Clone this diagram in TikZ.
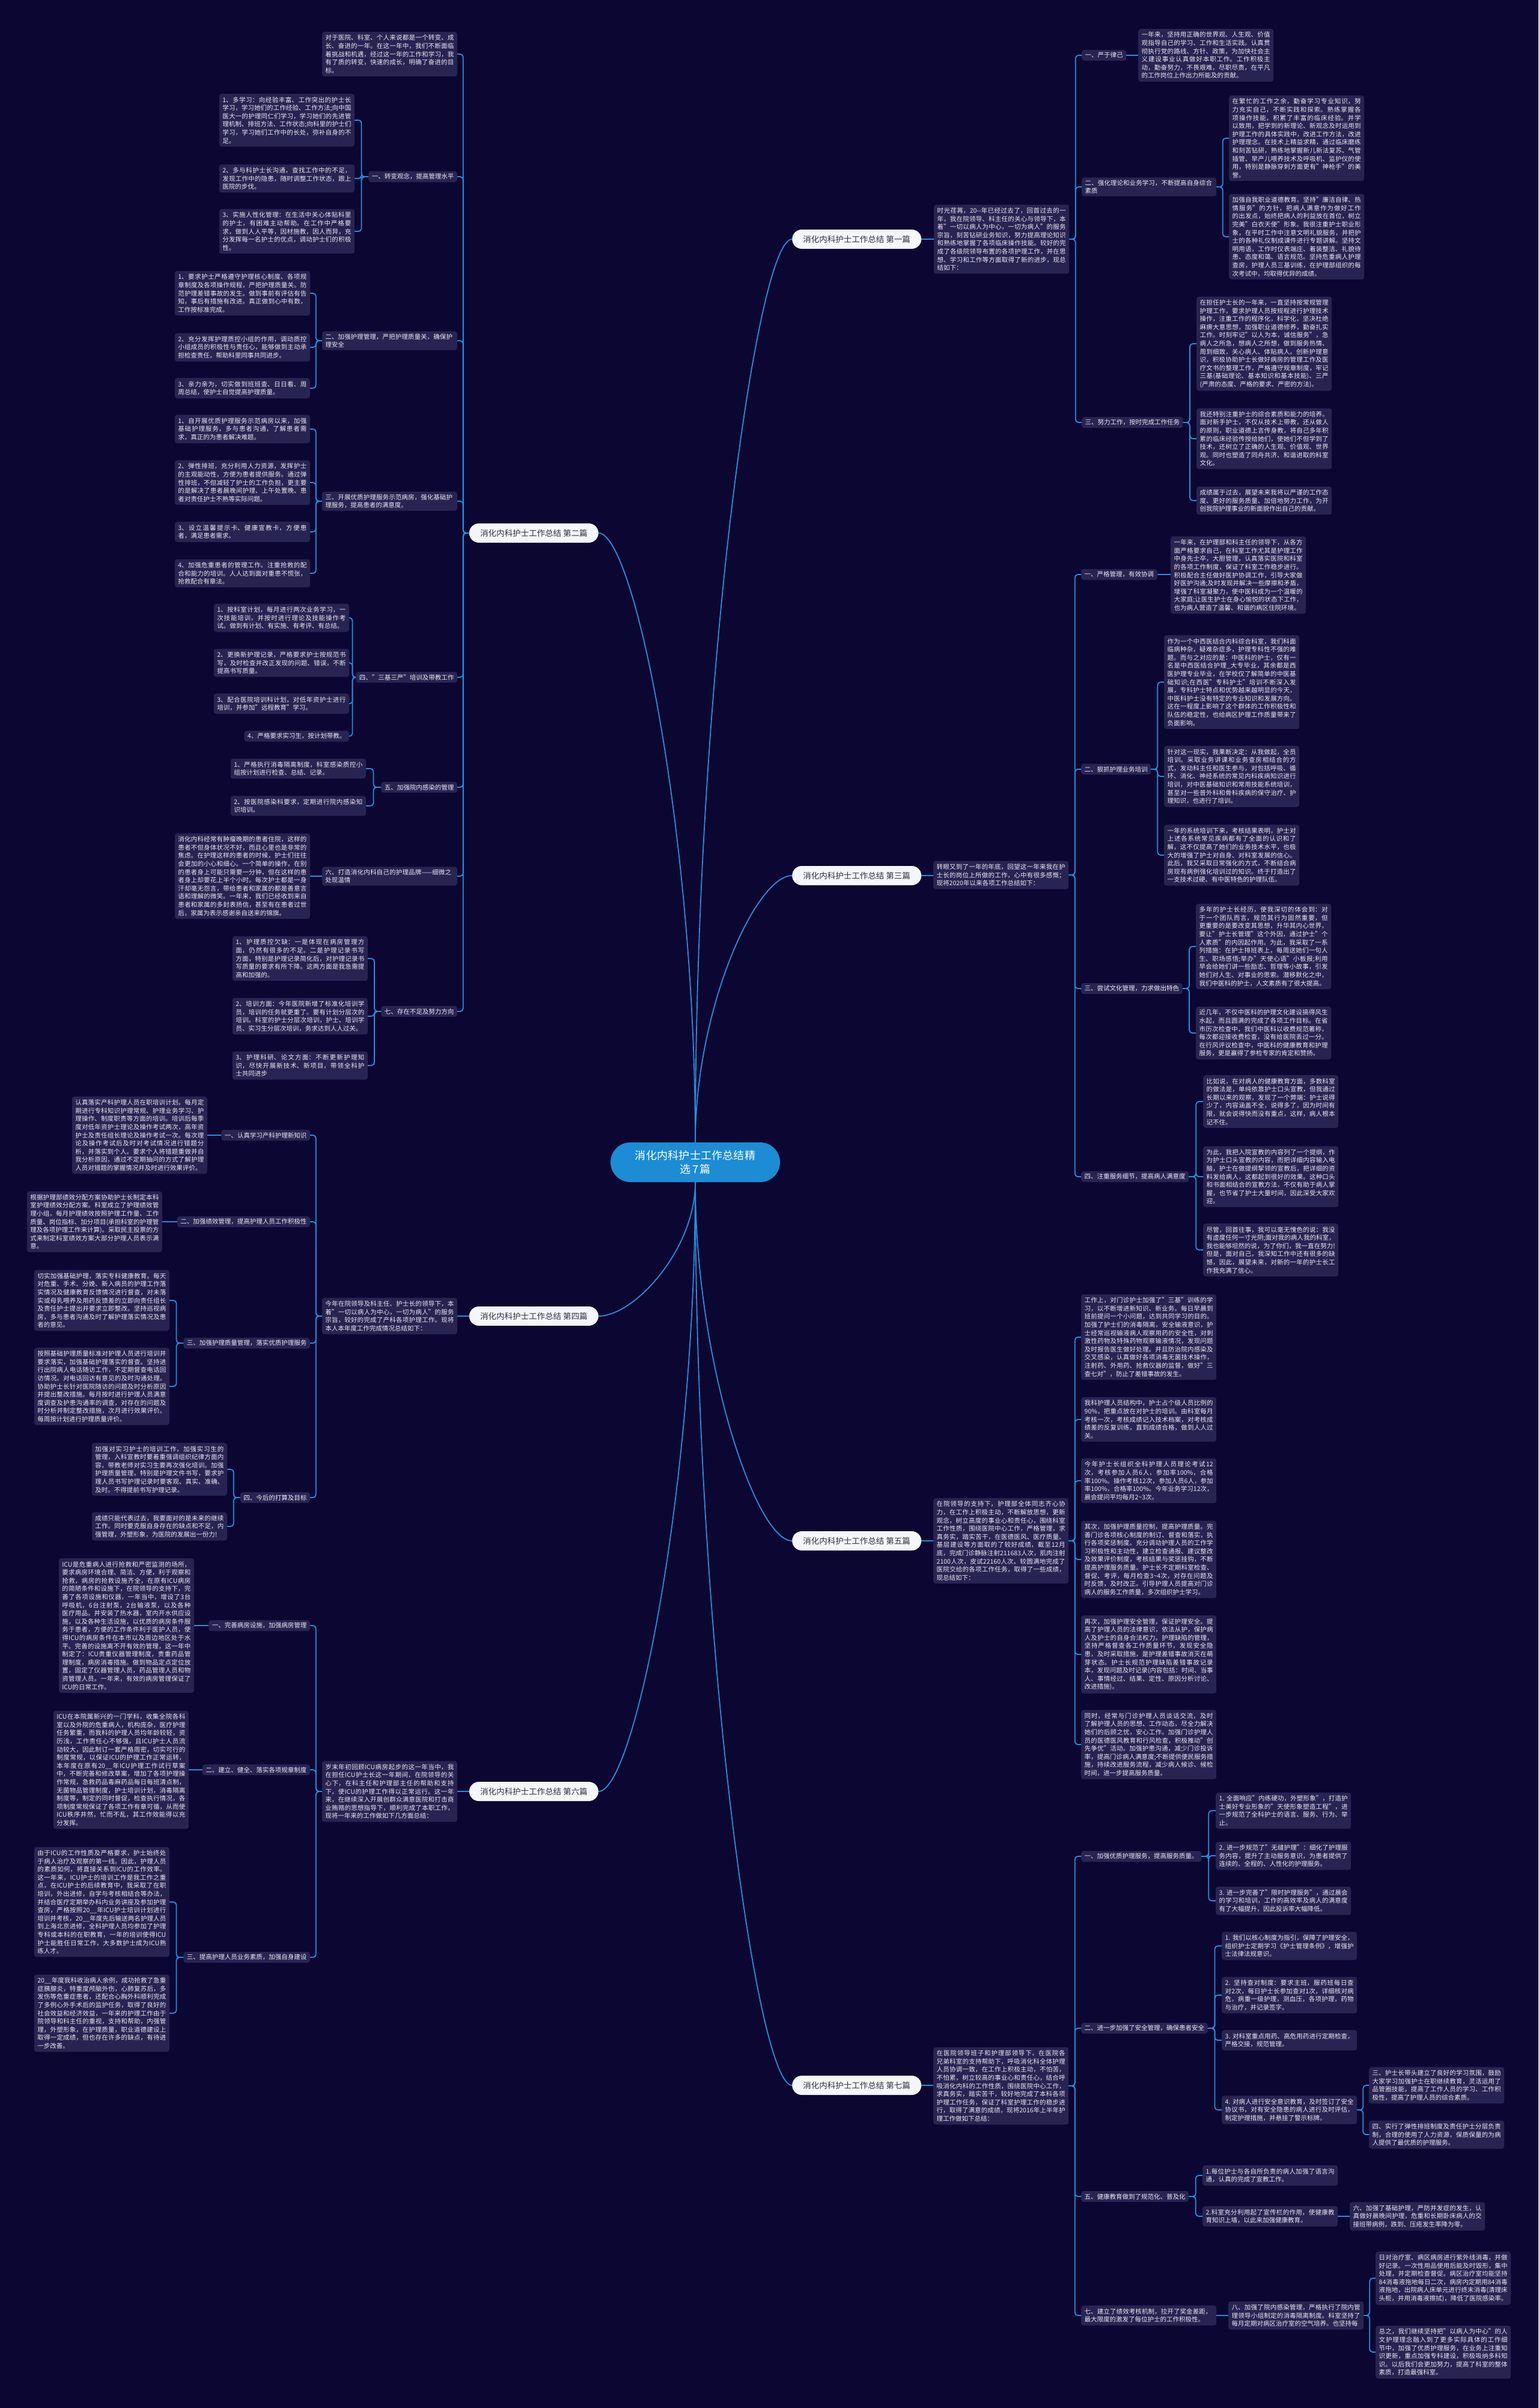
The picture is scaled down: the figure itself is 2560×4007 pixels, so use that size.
\documentclass[tikz,border=0pt]{standalone}
\usepackage{fontspec}
\setmainfont{Noto Sans CJK SC}
\XeTeXlinebreaklocale "zh"
\XeTeXlinebreakskip=0pt plus 1pt
\usetikzlibrary{calc, positioning}
\definecolor{bgnavy}{RGB}{11, 7, 50}
\definecolor{boxfill}{RGB}{40, 36, 82}
\definecolor{linkblue}{RGB}{45, 140, 220}
\definecolor{rootblue}{RGB}{28, 140, 212}
\definecolor{branchfill}{RGB}{243, 246, 251}
\definecolor{branchtext}{RGB}{50, 50, 62}
\definecolor{leaftext}{RGB}{232, 232, 242}

\begin{document}
\begin{tikzpicture}[x=1pt, y=-1pt,
  link/.style={draw=linkblue, line width=1.8pt, rounded corners=5pt},
  head/.style={fill=boxfill, rounded corners=4pt, text=leaftext, font=\fontsize{10.5pt}{13.6pt}\selectfont, inner xsep=5.5pt, inner ysep=4pt},
  leaf/.style={head, inner ysep=5pt, text width=214pt, align=justify},
  branch/.style={fill=branchfill, rounded corners=16pt, minimum width=215pt, minimum height=32pt, text=branchtext, font=\fontsize{13.5pt}{16pt}\selectfont},
  root/.style={fill=rootblue, rounded corners=33pt, minimum width=282pt, minimum height=66pt, text=white, text width=215pt, align=center, font=\fontsize{18pt}{23pt}\selectfont}]
  \fill[bgnavy] (0,0) rectangle (2560,4007);
  \useasboundingbox (0,0) rectangle (2560,4007);

  % root and the seven branches
  \node[root] (root) at (1157,1934) {消化内科护士工作总结精\\选7篇};
  \node[branch, anchor=west] (b1) at (1318,398) {消化内科护士工作总结 第一篇};
  \node[branch, anchor=east] (b2) at (996,887) {消化内科护士工作总结 第二篇};
  \node[branch, anchor=west] (b3) at (1318,1457) {消化内科护士工作总结 第三篇};
  \node[branch, anchor=east] (b4) at (996,2190) {消化内科护士工作总结 第四篇};
  \node[branch, anchor=west] (b5) at (1318,2564) {消化内科护士工作总结 第五篇};
  \node[branch, anchor=east] (b6) at (996,2981) {消化内科护士工作总结 第六篇};
  \node[branch, anchor=west] (b7) at (1318,3470) {消化内科护士工作总结 第七篇};

  % first
  \node[leaf, anchor=west] (i1) at (1554,398) {时光荏苒，20-\kern0pt-年已经过去了，回首过去的一年，我在院领导、科主任的关心与领导下，本着"一切以病人为中心，一切为病人"的服务宗旨，刻苦钻研业务知识，努力提高理论知识和熟练地掌握了各项临床操作技能。较好的完成了各级院领导布置的各项护理工作，并在思想、学习和工作等方面取得了新的进步，现总结如下：};
  \node[head, anchor=west] (h11) at (1800,92) {一、严于律己};
  \node[leaf, anchor=west] (l11) at (1894,92) {一年来，坚持用正确的世界观、人生观、价值观指导自己的学习、工作和生活实践。认真贯彻执行党的路线、方针、政策，为加快社会主义建设事业认真做好本职工作。工作积极主动，勤奋努力，不畏艰难，尽职尽责，在平凡的工作岗位上作出力所能及的贡献。};
  \node[head, anchor=west, text width=213pt, align=left] (h12) at (1800,311) {二、强化理论和业务学习，不断提高自身综合素质};
  \node[leaf, anchor=west] (l12a) at (2045,230) {在繁忙的工作之余，勤奋学习专业知识，努力充实自己，不断实践和探索。熟练掌握各项操作技能，积累了丰富的临床经验。并学以致用，把学到的新理论、新观念及时运用到护理工作的具体实践中，改进工作方法，改进护理理念。在技术上精益求精，通过临床磨练和刻苦钻研，熟练地掌握新儿新法复苏、气管插管、早产儿喂养技术及呼吸机、监护仪的使用，特别是静脉穿刺方面更有"神枪手"的美誉。};
  \node[leaf, anchor=west] (l12b) at (2045,394) {加强自我职业道德教育。坚持"廉洁自律、热情服务"的方针，把病人满意作为做好工作的出发点，始终把病人的利益放在首位，树立完美"白衣天使"形象。我很注重护士职业形象，在平时工作中注意文明礼貌服务，并把护士的各种礼仪制成课件进行专题讲解。坚持文明用语，工作时仪表端庄、着装整洁、礼貌待患、态度和蔼、语言规范。坚持危重病人护理查房，护理人员三基训练，在护理部组织的每次考试中，均取得优异的成绩。};
  \node[head, anchor=west] (h13) at (1800,703) {三、努力工作，按时完成工作任务};
  \node[leaf, anchor=west] (l13a) at (1991,572) {在担任护士长的一年来，一直坚持按常规管理护理工作，要求护理人员按规程进行护理技术操作，注重工作的程序化，科学化，坚决杜绝麻痹大意思想，加强职业道德修养，勤奋扎实工作。时刻牢记"以人为本，诚信服务"，急病人之所急，想病人之所想，做到服务热情、周到细致，关心病人、体贴病人。创新护理意识，积极协助护士长做好病房的管理工作及医疗文书的整理工作，严格遵守规章制度，牢记三基(基础理论、基本知识和基本技能)、三严(严肃的态度、严格的要求、严密的方法)。};
  \node[leaf, anchor=west] (l13b) at (1991,730) {我还特别注重护士的综合素质和能力的培养。面对新手护士，不仅从技术上带教，还从做人的原则，职业道德上言传身教，将自己多年积累的临床经验传授给她们，使她们不但学到了技术，还树立了正确的人生观、价值观、世界观。同时也塑造了同舟共济、和谐进取的科室文化。};
  \node[leaf, anchor=west] (l13c) at (1991,833) {成绩属于过去，展望未来我将以严谨的工作态度、更好的服务质量、加倍地努力工作，为开创我院护理事业的新面貌作出自己的贡献。};

  % second
  \node[leaf, anchor=east] (l20) at (761,90) {对于医院、科室、个人来说都是一个转变、成长、奋进的一年。在这一年中，我们不断面临着挑战和机遇，经过这一年的工作和学习，我有了质的转变，快速的成长，明确了奋进的目标。};
  \node[head, anchor=east] (h21) at (761,294) {一、转变观念，提高管理水平};
  \node[leaf, anchor=east] (l21a) at (590,200) {1、多学习：向经验丰富、工作突出的护士长学习，学习她们的工作经验、工作方法;向中国医大一的护理同仁们学习，学习她们的先进管理机制、排班方法、工作状态;向科里的护士们学习，学习她们工作中的长处，弥补自身的不足。};
  \node[leaf, anchor=east] (l21b) at (590,297) {2、多与科护士长沟通，查找工作中的不足，发现工作中的隐患，随时调整工作状态，跟上医院的步伐。};
  \node[leaf, anchor=east] (l21c) at (590,385) {3、实施人性化管理：在生活中关心体贴科里的护士，有困难主动帮助。在工作中严格要求，做到人人平等，因材施教，因人而异，充分发挥每一名护士的优点，调动护士们的积极性。};
  \node[head, anchor=east, text width=214pt, align=left] (h22) at (761,567) {二、加强护理管理，严把护理质量关，确保护理安全};
  \node[leaf, anchor=east] (l22a) at (516,488) {1、要求护士严格遵守护理核心制度、各项规章制度及各项操作规程，严把护理质量关。防范护理差错事故的发生。做到事前有评估有告知，事后有措施有改进。真正做到心中有数，工作按标准完成。};
  \node[leaf, anchor=east] (l22b) at (516,578) {2、充分发挥护理质控小组的作用，调动质控小组成员的积极性与责任心，能够做到主动承担检查责任，帮助科里同事共同进步。};
  \node[leaf, anchor=east] (l22c) at (516,646) {3、亲力亲为，切实做到班班查、日日看、周周总结，使护士自觉提高护理质量。};
  \node[head, anchor=east, text width=214pt, align=left] (h23) at (761,834) {三、开展优质护理服务示范病房，强化基础护理服务，提高患者的满意度。};
  \node[leaf, anchor=east] (l23a) at (516,714) {1、自开展优质护理服务示范病房以来，加强基础护理服务，多与患者沟通，了解患者需求，真正的为患者解决难题。};
  \node[leaf, anchor=east] (l23b) at (516,803) {2、弹性排班，充分利用人力资源，发挥护士的主观能动性，方便为患者提供服务。通过弹性排班，不但减轻了护士的工作负担，更主要的是解决了患者晨晚间护理、上午处置晚、患者对责任护士不熟等实际问题。};
  \node[leaf, anchor=east] (l23c) at (516,885) {3、设立温馨提示卡、健康宣教卡，方便患者，满足患者需求。};
  \node[leaf, anchor=east] (l23d) at (516,954) {4、加强危重患者的管理工作。注重抢救的配合和能力的培训。人人达到面对重患不慌张，抢救配合有章法。};
  \node[head, anchor=east] (h24) at (761,1127) {四、"三基三严"培训及带教工作};
  \node[leaf, anchor=east] (l24a) at (581,1028) {1、按科室计划，每月进行两次业务学习，一次技能培训，并按时进行理论及技能操作考试。做到有计划、有实施、有考评、有总结。};
  \node[leaf, anchor=east] (l24b) at (581,1103) {2、更换新护理记录，严格要求护士按规范书写，及时检查并改正发现的问题、错误，不断提高书写质量。};
  \node[leaf, anchor=east] (l24c) at (581,1171) {3、配合医院培训科计划，对低年资护士进行培训，并参加"远程教育"学习。};
  \node[head, anchor=east] (l24d) at (581,1225) {4、严格要求实习生，按计划带教。};
  \node[head, anchor=east] (h25) at (761,1310) {五、加强院内感染的管理};
  \node[leaf, anchor=east] (l25a) at (609,1279) {1、严格执行消毒隔离制度，科室感染质控小组按计划进行检查、总结、记录。};
  \node[leaf, anchor=east] (l25b) at (609,1341) {2、按医院感染科要求，定期进行院内感染知识培训。};
  \node[head, anchor=east, text width=214pt, align=left] (h26) at (761,1458) {六、打造消化内科自己的护理品牌——细微之处现温情};
  \node[leaf, anchor=east] (l26) at (516,1458) {消化内科经常有肿瘤晚期的患者住院，这样的患者不但身体状况不好，而且心里也是非常的焦虑。在护理这样的患者的时候，护士们往往会更加的小心和细心。一个简单的操作，在别的患者身上可能只需要一分钟，但在这样的患者身上却要花上半个小时。每次护士都是一身汗却毫无怨言，带给患者和家属的都是善意言语和理解的微笑。一年来，我们已经收到来自患者和家属的多封表扬信，甚至有在患者过世后，家属为表示感谢亲自送来的锦旗。};
  \node[head, anchor=east] (h27) at (761,1683) {七、存在不足及努力方向};
  \node[leaf, anchor=east] (l27a) at (612,1595) {1、护理质控欠缺：一是体现在病房管理方面，仍然有很多的不足。二是护理记录书写方面，特别是护理记录简化后，对护理记录书写质量的要求有所下降。这两方面是我急需提高和加强的。};
  \node[leaf, anchor=east] (l27b) at (612,1691) {2、培训方面：今年医院新增了标准化培训学员，培训的任务就更重了。要有计划分层次的培训。科室的护士分层次培训，护士、培训学员、实习生分层次培训，务求达到人人过关。};
  \node[leaf, anchor=east] (l27c) at (612,1773) {3、护理科研、论文方面：不断更新护理知识，尽快开展新技术、新项目，带领全科护士共同进步};

  % third
  \node[leaf, anchor=west] (i3) at (1553,1456) {转眼又到了一年的年底，回望这一年来我在护士长的岗位上所做的工作，心中有很多感慨；现将2020年以来各项工作总结如下：};
  \node[head, anchor=west] (h31) at (1799,956) {一、严格管理，有效协调};
  \node[leaf, anchor=west] (l31) at (1948,957) {一年来，在护理部和科主任的领导下，从各方面严格要求自己，在科室工作尤其是护理工作中身先士卒，大胆管理，认真落实医院和科室的各项工作制度，保证了科室工作稳步进行。积极配合主任做好医护协调工作，引导大家做好医护沟通;及时发现并解决一些摩擦和矛盾，增强了科室凝聚力，使中医科成为一个温暖的大家庭;让医生护士在身心愉悦的状态下工作，也为病人营造了温馨、和谐的病区住院环境。};
  \node[head, anchor=west] (h32) at (1799,1280) {二、狠抓护理业务培训};
  \node[leaf, anchor=west] (l32a) at (1937,1135) {作为一个中西医结合内科综合科室，我们科面临病种杂，疑难杂症多，护理专科性不强的难题。而与之对应的是：中医科的护士，仅有一名是中西医结合护理\_大专毕业，其余都是西医护理专业毕业，在学校仅了解简单的中医基础知识;在西医"专科护士"培训不断深入发展，专科护士特点和优势越来越明显的今天，中医科护士没有特定的专业知识和发展方向。这在一程度上影响了这个群体的工作积极性和队伍的稳定性，也给病区护理工作质量带来了负面影响。};
  \node[leaf, anchor=west] (l32b) at (1937,1292) {针对这一现实，我果断决定：从我做起，全员培训。采取业务讲课和业务查房相结合的方式，发动科主任和医生参与，对包括呼吸、循环、消化、神经系统的常见内科疾病知识进行培训，对中医基础知识和常用技能系统培训，甚至对一些普外科和骨科疾病的保守治疗、护理知识，也进行了培训。};
  \node[leaf, anchor=west] (l32c) at (1937,1423) {一年的系统培训下来，考核结果表明，护士对上述各系统常见疾病都有了全面的认识和了解，这不仅提高了她们的业务技术水平，也极大的增强了护士对自身、对科室发展的信心。此后，我又采取日常强化的方式，不断结合病房现有病例强化培训过的知识。终于打造出了一支技术过硬、有中医特色的护理队伍。};
  \node[head, anchor=west] (h33) at (1799,1645) {三、尝试文化管理，力求做出特色};
  \node[leaf, anchor=west] (l33a) at (1990,1575) {多年的护士长经历，使我深切的体会到：对于一个团队而言，规范其行为固然重要，但更重要的是要改变其思想，升华其内心世界，要让"护士长管理"这个外因，通过护士"个人素质"的内因起作用。为此，我采取了一系列措施：在护士排班表上，每周送她们一句人生、职场感悟;举办"天使心语"小板报;利用早会给她们讲一些励志、哲理等小故事，引发她们对人生、对事业的思索。潜移默化之中，我们中医科的护士，人文素质有了很大提高。};
  \node[leaf, anchor=west] (l33b) at (1990,1719) {近几年，不仅中医科的护理文化建设搞得风生水起，而且圆满的完成了各项工作目标。在省市历次检查中，我们中医科以收费规范著称，每次都迎接收费检查，没有给医院丢过一分。在行风评议检查中，中医科的健康教育和护理服务，更是赢得了参检专家的肯定和赞扬。};
  \node[head, anchor=west] (h34) at (1799,1958) {四、注重服务细节，提高病人满意度};
  \node[leaf, anchor=west] (l34a) at (2002,1833) {比如说，在对病人的健康教育方面，多数科室的做法是，单纯依靠护士口头宣教，但我通过长期以来的观察，发现了一个弊端：护士说得少了，内容涵盖不全，说得多了，因为时间有限，就会说得快而没有重点，这样，病人根本记不住。};
  \node[leaf, anchor=west] (l34b) at (2002,1958) {为此，我把入院宣教的内容列了一个提纲，作为护士口头宣教的内容，而把详细内容输入电脑，护士在做提纲挈领的宣教后，把详细的资料发给病人，这都起到很好的效果。这种口头和书面相结合的宣教方法，不仅有助于病人掌握，也节省了护士大量时间，因此深受大家欢迎。};
  \node[leaf, anchor=west] (l34c) at (2002,2080) {尽管，回首往事，我可以毫无愧色的说：我没有虚度任何一寸光阴;面对我的病人我的科室，我也能够坦然的说，为了你们，我一直在努力!但是，面对自己，我深知工作中还有很多的缺憾，因此，展望未来，对新的一年的护士长工作我充满了信心。};

  % fourth
  \node[leaf, anchor=east] (i4) at (761,2190) {今年在院领导及科主任、护士长的领导下，本着"一切以病人为中心，一切为病人"的服务宗旨，较好的完成了产科各项护理工作。现将本人本年度工作完成情况总结如下：};
  \node[head, anchor=east] (h41) at (516,1889) {一、认真学习产科护理新知识};
  \node[leaf, anchor=east] (l41) at (345,1889) {认真落实产科护理人员在职培训计划。每月定期进行专科知识护理常规、护理业务学习、护理操作、制度职责等方面的培训。培训后每季度对低年资护士理论及操作考试两次，高年资护士及责任组长理论及操作考试一次。每次理论及操作考试后及时对考试情况进行错题分析，并落实到个人。要求个人将错题重做并自我分析原因，通过不定期抽问的方式了解护理人员对错题的掌握情况并及时进行效果评价。};
  \node[head, anchor=east] (h42) at (516,2033) {二、加强绩效管理，提高护理人员工作积极性};
  \node[leaf, anchor=east] (l42) at (270,2033) {根据护理部绩效分配方案协助护士长制定本科室护理绩效分配方案。科室成立了护理绩效管理小组，每月护理绩效按照护理工作量、工作质量、岗位指标、加分项目(承担科室的护理管理及各项护理工作来计算)。采取民主投票的方式来制定科室绩效方案大部分护理人员表示满意。};
  \node[head, anchor=east] (h43) at (516,2235) {三、加强护理质量管理，落实优质护理服务};
  \node[leaf, anchor=east] (l43a) at (282,2164) {切实加强基础护理，落实专科健康教育。每天对危重、手术、分娩、新入病员的护理工作落实情况及健康教育反馈情况进行督查，对未落实或母乳喂养及用药反馈差的立即向责任组长及责任护士提出并要求立即整改。坚持巡视病房，多与患者沟通及时了解护理落实情况及患者的意见。};
  \node[leaf, anchor=east] (l43b) at (282,2307) {按照基础护理质量标准对护理人员进行培训并要求落实，加强基础护理落实的督查。坚持进行出院病人电话随访工作，不定期督查电话回访情况。对电话回访有意见的及时沟通处理。协助护士长针对医院随访的问题及时分析原因并提出整改措施。每月按时进行护理人员满意度调查及护患沟通率的调查，对存在的问题及时分析并制定整改措施，次月进行效果评价。每周按计划进行护理质量评价。};
  \node[head, anchor=east] (h44) at (516,2492) {四、今后的打算及目标};
  \node[leaf, anchor=east] (l44a) at (378,2445) {加强对实习护士的培训工作，加强实习生的管理，入科宣教时要着重强调组织纪律方面内容，带教老师对实习生要再次强化培训。加强护理质量管理，特别是护理文件书写，要求护理人员书写护理记录时要客观、真实、准确、及时。不得提前书写护理记录。};
  \node[leaf, anchor=east] (l44b) at (378,2540) {成绩只能代表过去，我要面对的是未来的继续工作。同时要克服自身存在的缺点和不足，内强管理，外塑形象，为医院的发展出一份力!};

  % fifth
  \node[leaf, anchor=west] (i5) at (1553,2564) {在院领导的支持下，护理部全体同志齐心协力，在工作上积极主动，不断解放思想，更新观念，树立高度的事业心和责任心，围绕科室工作性质，围绕医院中心工作，严格管理，求真务实，踏实苦干，在医德医风、医疗质量、基层建设等方面取的了较好成绩，截至12月底，完成门诊静脉注射211683人次，肌肉注射2100人次，皮试22160人次。较圆满地完成了医院交给的各项工作任务，取得了一些成绩，现总结如下：};
  \node[leaf, anchor=west] (l51) at (1799,2225) {工作上，对门诊护士加强了"三基"训练的学习，以不断增进新知识、新业务。每日早晨到班前提问一个小问题，达到共同学习的目的。加强了护士们的消毒隔离，安全输液意识，护士经常巡视输液病人观察用药的安全性，对刺激性药物及特殊药物观察输液情况，发现问题及时报告医生做好处理。并且防治院内感染及交叉感染，认真做好各项消毒无菌技术操作，注射药、外用药、抢救仪器的监督，做好"三查七对"，防止了差错事故的发生。};
  \node[leaf, anchor=west] (l52) at (1799,2362) {我科护理人员结构中，护士占个级人员比例的90\%，把重点放在对护士的培训。由科室每月考核一次，考核成绩记入技术档案，对考核成绩差的反复训练，直到成绩合格，做到人人过关。};
  \node[leaf, anchor=west] (l53) at (1799,2464) {今年护士长组织全科护理人员理论考试12次，考核参加人员6人，参加率100\%，合格率100\%。操作考核12次，参加人员6人，参加率100\%，合格率100\%。今年业务学习12次，晨会提问平均每月2\textasciitilde{}3次。};
  \node[leaf, anchor=west] (l54) at (1799,2595) {其次，加强护理质量控制，提高护理质量。完善门诊各项核心制度的制订、督查和落实，执行各项奖惩制度。充分调动护理人员的工作学习积极性和主动性，建立检查通报、建议整改及效果评价制度，考核结果与奖惩挂钩，不断提高护理服务质量。护士长不定期科室检查、督促、考评，每月检查3\textasciitilde{}4次，对存在问题及时反馈，及时改正。引导护理人员提高对门诊病人的服务工作质量，多次组织护士学习。};
  \node[leaf, anchor=west] (l55) at (1799,2753) {再次，加强护理安全管理，保证护理安全。提高了护理人员的法律意识，依法从护，保护病人及护士的自身合法权力。护理缺陷的管理，坚持严格督查各工作质量环节，发现安全隐患，及时采取措施，是护理差错事故消灭在萌芽状态。护士长规范护理缺陷差错事故记录本，发现问题及时记录(内容包括：时间、当事人、事情经过、结果、定性、原因分析讨论、改进措施)。};
  \node[leaf, anchor=west] (l56) at (1799,2903) {同时，经常与门诊护理人员谈话交流，及时了解护理人员的思想、工作动态，尽全力解决她们的后顾之忧，安心工作。加强门诊护理人员的医德医风教育和行风检查，积极推动"创先争优"活动。加强护患沟通，减少门诊投诉率，提高门诊病人满意度;不断提供便民服务措施，持续改进服务流程，减少病人候诊、候检时间，进一步提高服务质量。};

  % sixth
  \node[leaf, anchor=east] (i6) at (761,2981) {岁末年初回顾ICU病房起步的这一年当中，我在担任ICU护士长这一年期间，在院领导的关心下，在科主任和护理部主任的帮助和支持下，使ICU的护理工作得以正常运行。这一年来，在继续深入开展创群众满意医院和打击商业贿赂的思想指导下，顺利完成了本职工作，现将一年来的工作做如下几方面总结：};
  \node[head, anchor=east] (h61) at (516,2705) {一、完善病房设施，加强病房管理};
  \node[leaf, anchor=east] (l61) at (323,2705) {ICU是危重病人进行抢救和严密监测的场所，要求病房环境合理、简洁、方便，利于观察和抢救，病房的抢救设施齐全，在原有ICU病房的简陋条件和设施下，在院领导的支持下，完善了各项设施和仪器，一年当中，增设了3台呼吸机，6台注射泵，2台输液泵，以及各种医疗用品。并安装了热水器，室内开水供应设施，以及各种生活设施，以优质的病房条件服务于患者，方便的工作条件利于医护人员，使得ICU的病房条件在本市以及周边地区处于水平。完善的设施离不开有效的管理，这一年中制定了：ICU贵重仪器管理制度，贵重药品管理制度，病房消毒措施。做到物品定点定位放置，固定了仪器管理人员，药品管理人员和物资管理人员。一年来，有效的病房管理保证了ICU的日常工作。};
  \node[head, anchor=east] (h62) at (516,2945) {二、建立、健全、落实各项规章制度};
  \node[leaf, anchor=east] (l62) at (314,2945) {ICU在本院属新兴的一门学科，收集全院各科室以及外院的危重病人，机构庞杂，医疗护理任务繁重，而我科的护理人员均年龄较轻，资历浅，工作责任心不够强，且ICU护士人员流动较大，因此制订一套严格周密，切实可行的制度常规，以保证ICU的护理工作正常运转，本年度在原有20\_\_年ICU护理工作试行草案中，不断完善和修改草案，增加了各项护理操作常规，急救药品毒麻药品每日每班清点制，无菌物品管理制度，护士培训计划，消毒隔离制度等，制定的同时督促，检查执行情况，各项制度常规保证了各项工作有章可循，从而使ICU秩序井然，忙而不乱，其工作效能得以充分发挥。};
  \node[head, anchor=east] (h63) at (516,3257) {三、提高护理人员业务素质，加强自身建设};
  \node[leaf, anchor=east] (l63a) at (282,3165) {由于ICU的工作性质及严格要求，护士始终处于病人治疗及观察的第一线。因此，护理人员的素质如何，将直接关系到ICU的工作效率。这一年来，ICU护士的培训工作是我工作之重点，在ICU护士的后续教育中，我采取了在职培训，外出进修，自学与考核相结合等办法，并结合医疗定期举办科内业务讲座及参加护理查房，严格按照20\_\_年ICU护士培训计划进行培训并考核，20\_\_年度先后输送两名护理人员到上海北京进修，全科护理人员均参加了护理专科或本科的在职教育，一年的培训使得ICU护士能胜任日常工作，大多数护士成为ICU熟练人才。};
  \node[leaf, anchor=east] (l63b) at (282,3350) {20\_\_年度我科收治病人余例，成功抢救了急重症胰腺炎，特重度颅脑外伤，心肺复苏后，多发伤等危重症患者，还配合心胸外科顺利完成了多例心外手术后的监护任务，取得了良好的社会效益和经济效益，一年来的护理工作由于院领导和科主任的重视，支持和帮助，内强管理，外塑形象，在护理质量，职业道德建设上取得一定成绩，但也存在许多的缺点，有待进一步改善。};

  % seventh
  \node[leaf, anchor=west] (i7) at (1553,3471) {在医院领导班子和护理部领导下，在医院各兄弟科室的支持帮助下，呼吸消化科全体护理人员协调一致，在工作上积极主动，不怕苦，不怕累，树立较高的事业心和责任心，结合呼吸消化内科的工作性质，围绕医院中心工作，求真务实，踏实苦干，较好地完成了本科各项护理工作任务，保证了科室护理工作的稳步进行，取得了满意的成绩，现将2016年上半年护理工作做如下总结：};
  \node[head, anchor=west] (h71) at (1799,3089) {一、加强优质护理服务，提高服务质量。};
  \node[leaf, anchor=west] (l71a) at (2023,3013) {1. 全面响应"内练硬功，外塑形象"，打造护士美好专业形象的"天使形象塑造工程"，进一步规范了全科护士的语言、服务、行为、举止。};
  \node[leaf, anchor=west] (l71b) at (2023,3088) {2. 进一步规范了"无缝护理"：细化了护理服务内容，提升了主动服务意识，为患者提供了连续的、全程的、人性化的护理服务。};
  \node[leaf, anchor=west] (l71c) at (2023,3163) {3. 进一步完善了"限时护理服务"，通过晨会的学习和培训，工作的高效率及病人的满意度有了大幅提升，因此投诉率大幅降低。};
  \node[head, anchor=west] (h72) at (1799,3375) {二、进一步加强了安全管理，确保患者安全};
  \node[leaf, anchor=west] (l72a) at (2033,3238) {1. 我们以核心制度为指引，保障了护理安全，组织护士定期学习《护士管理条例》，增强护士法律法规意识。};
  \node[leaf, anchor=west] (l72b) at (2033,3320) {2. 坚持查对制度：要求主班，服药班每日查对2次，每日护士长参加查对1次，详细核对病危，病重一级护理，测血压，各项护理，药物与治疗，并记录签字。};
  \node[leaf, anchor=west] (l72c) at (2033,3395) {3. 对科室重点用药、高危用药进行定期检查，严格交接，规范管理。};
  \node[leaf, anchor=west] (l72d) at (2033,3511) {4. 对病人进行安全意识教育，及时签订了安全协议书，对有安全隐患的病人进行及时评估，制定护理措施，并悬挂了警示标牌。};
  \node[leaf, anchor=west] (m72a) at (2278,3470) {三、护士长带头建立了良好的学习氛围，鼓励大家学习加强护士在职继续教育，灵活运用了品管圈技能，提高了工作人员的学习、工作积极性，提高了护理人员的综合素质。};
  \node[leaf, anchor=west] (m72b) at (2278,3552) {四、实行了弹性排班制度及责任护士分层负责制，合理的使用了人力资源，保质保量的为病人提供了最优质的护理服务。};
  \node[head, anchor=west] (h75) at (1799,3655) {五、健康教育做到了规范化、普及化};
  \node[leaf, anchor=west] (l75a) at (2001,3620) {1.每位护士与各自所负责的病人加强了语言沟通，认真的完成了宣教工作。};
  \node[leaf, anchor=west] (l75b) at (2001,3688) {2.科室充分利用起了宣传栏的作用，使健康教育知识上墙，以此来加强健康教育。};
  \node[leaf, anchor=west] (m75) at (2246,3688) {六、加强了基础护理，严防并发症的发生，认真做好晨晚间护理，危重和长期卧床病人的交接班带病例，跌到、压疮发生率降为零。};
  \node[leaf, anchor=west, align=left] (h77) at (1799,3853) {七、建立了绩效考核机制，拉开了奖金差距，最大限度的激发了每位护士的工作积极性。};
  \node[leaf, anchor=west] (l77) at (2044,3853) {八、加强了院内感染管理，严格执行了院内管理领导小组制定的消毒隔离制度。科室坚持了每月定期对病区治疗室的空气培养。也坚持每};
  \node[leaf, anchor=west] (m77a) at (2289,3791) {日对治疗室、病区病房进行紫外线消毒，并做好记录。一次性用品使用后能及时毁形，集中处理，并定期检查督促。病区治疗室均能坚持84消毒液拖地每日二次，病房内定期用84消毒液拖地，出院病人床单元进行终末消毒(清理床头柜，并用消毒液擦拭)，降低了医院感染率。};
  \node[leaf, anchor=west] (m77b) at (2289,3914) {总之，我们继续坚持把"以病人为中心"的人文护理理念融入到了更多实际具体的工作细节中，加强了优质护理服务，在业务上注重知识更新，重点加强专科建设，积极吸纳多科知识。以后我们会更加努力，提高了科室的整体素质，打造最强科室。};

  % root to branches
  \foreach \b in {b1,b3}
    \draw[link] (root.north) .. controls ($(root.north)!.5!(root.north |- \b.west)$) and ($(\b.west)+(-60,0)$) .. (\b.west);
  \foreach \b in {b5,b7}
    \draw[link] (root.south) .. controls ($(root.south)!.5!(root.south |- \b.west)$) and ($(\b.west)+(-60,0)$) .. (\b.west);
  \draw[link] (root.north) .. controls ($(root.north)!.5!(root.north |- b2.east)$) and ($(b2.east)+(60,0)$) .. (b2.east);
  \foreach \b in {b4,b6}
    \draw[link] (root.south) .. controls ($(root.south)!.5!(root.south |- \b.east)$) and ($(\b.east)+(60,0)$) .. (\b.east);

  % straight links
  \foreach \a/\b in {b1/i1, b3/i3, b5/i5, b7/i7, h11/l11, h31/l31, l75b/m75, h77/l77}
    \draw[link] (\a.east) -- (\b.west |- \a.east);
  \foreach \a/\b in {b4/i4, b6/i6, h26/l26, h41/l41, h42/l42, h61/l61, h62/l62}
    \draw[link] (\a.west) -- (\b.east |- \a.west);

  % elbow links, right side
  \foreach \a/\b in {i1/h11, i1/h12, i1/h13, h12/l12a, h12/l12b, h13/l13a, h13/l13b, h13/l13c,
      i3/h31, i3/h32, i3/h33, i3/h34, h32/l32a, h32/l32b, h32/l32c, h33/l33a, h33/l33b, h34/l34a, h34/l34b, h34/l34c,
      i5/l51, i5/l52, i5/l53, i5/l54, i5/l55, i5/l56,
      i7/h71, i7/h72, i7/h75, i7/h77, h71/l71a, h71/l71b, h71/l71c, h72/l72a, h72/l72b, h72/l72c, h72/l72d,
      l72d/m72a, l72d/m72b, h75/l75a, h75/l75b, l77/m77a, l77/m77b}
    \draw[link] (\a.east) -- ($(\a.east)!.5!(\b.west |- \a.east)$) |- (\b.west);

  % elbow links, left side
  \foreach \a/\b in {b2/l20, b2/h21, b2/h22, b2/h23, b2/h24, b2/h25, b2/h26, b2/h27,
      h21/l21a, h21/l21b, h21/l21c, h22/l22a, h22/l22b, h22/l22c, h23/l23a, h23/l23b, h23/l23c, h23/l23d,
      h24/l24a, h24/l24b, h24/l24c, h24/l24d, h25/l25a, h25/l25b, h27/l27a, h27/l27b, h27/l27c,
      i4/h41, i4/h42, i4/h43, i4/h44, h43/l43a, h43/l43b, h44/l44a, h44/l44b,
      i6/h61, i6/h62, i6/h63, h63/l63a, h63/l63b}
    \draw[link] (\a.west) -- ($(\a.west)!.5!(\b.east |- \a.west)$) |- (\b.east);
\end{tikzpicture}
\end{document}
